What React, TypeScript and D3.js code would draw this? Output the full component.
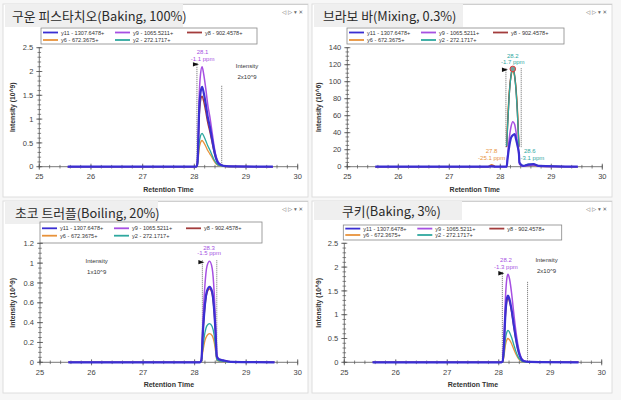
import React from "react";
import * as d3 from "d3";

// ---------- data ----------
const seriesKeys = ["y11", "y9", "y8", "y6", "y2"];
const legendNames = ["y11 - 1307.6478+", "y9 - 1065.5211+", "y8 - 902.4578+", "y6 - 672.3675+", "y2 - 272.1717+"];
const xTicks = [25, 26, 27, 28, 29, 30];
const yTicksA = [0, 0.5, 1, 1.5, 2, 2.5];
const yTicksB = [0, 20, 40, 60, 80, 100, 120, 140];
const yTicksC = [0, 0.2, 0.4, 0.6, 0.8, 1, 1.2];

// 구운 피스타치오
const p1Time = [25.55, 28.03, 28.05, 28.07, 28.09, 28.12, 28.15, 28.18, 28.22, 28.26, 28.3, 28.34, 28.38, 28.42, 28.46, 28.52, 28.6, 28.75, 29.52];
const p1Y11 = [0, 0, 0.02, 0.28, 1.08, 1.56, 1.68, 1.56, 1.32, 1.04, 0.84, 0.6, 0.36, 0.18, 0.08, 0.035, 0.012, 0.005, 0];
const p1Y9 = [0, 0, 0.02, 0.35, 1.35, 1.95, 2.1, 1.95, 1.65, 1.3, 1.05, 0.75, 0.45, 0.22, 0.1, 0.04, 0.015, 0.005, 0];
const p1Y8 = [0, 0, 0.015, 0.25, 0.95, 1.38, 1.48, 1.38, 1.16, 0.92, 0.74, 0.53, 0.32, 0.16, 0.07, 0.03, 0.01, 0.004, 0];
const p1Y6 = [0, 0, 0.008, 0.09, 0.35, 0.51, 0.55, 0.51, 0.43, 0.34, 0.27, 0.2, 0.12, 0.06, 0.027, 0.012, 0.004, 0.001, 0];
const p1Y2 = [0, 0, 0.01, 0.12, 0.45, 0.65, 0.7, 0.65, 0.55, 0.44, 0.35, 0.25, 0.15, 0.08, 0.035, 0.015, 0.005, 0.002, 0];

// 브라보 바
const p2Time = [25.55, 27.75, 27.83, 27.9, 28.11, 28.125, 28.14, 28.17, 28.21, 28.245, 28.28, 28.31, 28.34, 28.365, 28.375, 28.45, 28.55, 28.65, 28.75, 29.52];
const p2Y11 = [0, 0, 0.5, 0, 0, 0, 8, 22, 34, 37, 38.5, 32, 24, 16, 5, 1, 2.5, 3, 1, 0];
const p2Y9 = [0, 0, 0.5, 0, 0, 0, 10, 30, 47, 53, 50, 40, 25, 12, 3, 0.5, 1.5, 2, 0.5, 0];
const p2Y8 = [0, 0, 1.5, 0, null, 23, 45, 80, 108, 116, 108, 89, 58, 23, null, 0.5, 2.5, 2.5, 1, 0];
const p2Y6 = [0, 0, 2.5, 0, null, 24, 50, 84, 106, 112, 106, 92, 64, 25, null, 0.3, 1.5, 1.5, 0.5, 0];
const p2Y2 = [0, 0, 0.5, 0, null, 24, 44, 79, 107, 115, 107, 88, 57, 24, null, 0.5, 3, 3, 1, 0];

// 초코 트러플
const p3Time = [25.55, 28.1, 28.13, 28.16, 28.2, 28.24, 28.29, 28.34, 28.38, 28.41, 28.43, 28.47, 28.55, 28.7, 29.55];
const p3Y11 = [0, 0, 0.02, 0.3, 0.58, 0.72, 0.76, 0.71, 0.52, 0.26, 0.06, 0.03, 0.02, 0.005, 0];
const p3Y9 = [0, 0, 0.02, 0.4, 0.78, 0.97, 1.02, 0.95, 0.7, 0.35, 0.08, 0.03, 0.02, 0.005, 0];
const p3Y8 = [0, 0, 0.02, 0.29, 0.56, 0.7, 0.74, 0.69, 0.5, 0.25, 0.06, 0.03, 0.02, 0.005, 0];
const p3Y6 = [0, 0, 0.008, 0.11, 0.22, 0.27, 0.29, 0.27, 0.2, 0.1, 0.025, 0.012, 0.008, 0.002, 0];
const p3Y2 = [0, 0, 0.01, 0.15, 0.3, 0.37, 0.39, 0.36, 0.27, 0.13, 0.03, 0.015, 0.01, 0.002, 0];

// 쿠키
const p4Time = [25.55, 28.05, 28.075, 28.1, 28.13, 28.16, 28.18, 28.21, 28.25, 28.29, 28.33, 28.37, 28.41, 28.45, 28.5, 28.6, 28.8, 29.55];
const p4Y11 = [0, 0, 0.015, 0.34, 1.02, 1.35, 1.4, 1.32, 1.1, 0.8, 0.52, 0.29, 0.14, 0.055, 0.022, 0.008, 0.004, 0];
const p4Y9 = [0, 0, 0.02, 0.45, 1.35, 1.78, 1.85, 1.75, 1.45, 1.05, 0.68, 0.38, 0.18, 0.07, 0.03, 0.01, 0.005, 0];
const p4Y8 = [0, 0, 0.015, 0.33, 0.98, 1.3, 1.35, 1.27, 1.06, 0.77, 0.5, 0.28, 0.13, 0.05, 0.02, 0.007, 0.003, 0];
const p4Y6 = [0, 0, 0.006, 0.12, 0.36, 0.48, 0.5, 0.47, 0.39, 0.28, 0.18, 0.1, 0.045, 0.018, 0.008, 0.003, 0.001, 0];
const p4Y2 = [0, 0, 0.008, 0.16, 0.49, 0.64, 0.67, 0.63, 0.52, 0.38, 0.24, 0.13, 0.06, 0.025, 0.01, 0.004, 0.002, 0];

// ---------- styles ----------
const colors: Record<string, string> = {
  y11: "#3a2fd2",
  y9: "#a650e2",
  y8: "#a33c3c",
  y6: "#e8923a",
  y2: "#2ea89f",
};
const widths: Record<string, number> = { y11: 2.2, y9: 1.5, y8: 1.4, y6: 1.3, y2: 1.3 };
const drawOrder = ["y6", "y8", "y2", "y9", "y11"];
const sans = "'Liberation Sans', Arial, sans-serif";
const kr = "'Noto Sans CJK KR', sans-serif";

type Note = { t: number; v: number; text: string; color: string };

const panels = [
  {
    frame: [3, 4, 308, 197], tab: [5, 4, 183, 27], title: "구운 피스타치오(Baking, 100%)", titleX: 12, titleY: 21,
    legend: [41, 28, 216, 16], rows: [32.5, 40],
    axis: [39.3, 297.7, 47.7, 166.7], yMax: 2.5, yTicks: yTicksA, yMinor: 0.1, yUnit: "Intensity (10^9)", yLabelX: 13,
    time: p1Time, data: { y11: p1Y11, y9: p1Y9, y8: p1Y8, y6: p1Y6, y2: p1Y2 },
    marks: [[28.05, 2.18, 0], [28.53, 1.7, 0]], flag: [28.05, 2.15], circle: null as null | number[],
    notes: [
      { t: 28.16, v: 2.41, text: "28.1", color: "#a650e2" },
      { t: 28.16, v: 2.26, text: "-1.1 ppm", color: "#a650e2" },
      { t: 29.02, v: 2.11, text: "Intensity", color: "#333" },
      { t: 29.02, v: 1.88, text: "2x10^9", color: "#333" },
    ] as Note[],
  },
  {
    frame: [312, 4, 612, 197], tab: [314, 4, 463, 27], title: "브라보 바(Mixing, 0.3%)", titleX: 323, titleY: 21,
    legend: [347, 28, 217, 16], rows: [32.5, 40],
    axis: [347.3, 602.3, 47.7, 166.7], yMax: 140, yTicks: yTicksB, yMinor: 5, yUnit: "Intensity (10^6)", yLabelX: 318.3,
    time: p2Time, data: { y11: p2Y11, y9: p2Y9, y8: p2Y8, y6: p2Y6, y2: p2Y2 },
    marks: [[28.11, 116, 23], [28.41, 116, 23]], flag: [28.11, 114], circle: [28.245, 115],
    notes: [
      { t: 28.245, v: 130, text: "28.2", color: "#2ea89f" },
      { t: 28.245, v: 123, text: "-1.7 ppm", color: "#2ea89f" },
      { t: 27.83, v: 18.5, text: "27.8", color: "#e8923a" },
      { t: 27.83, v: 10, text: "-25.1 ppm", color: "#e8923a" },
      { t: 28.58, v: 18.5, text: "28.6", color: "#2ea89f" },
      { t: 28.63, v: 10, text: "-3.1 ppm", color: "#2ea89f" },
    ] as Note[],
  },
  {
    frame: [3, 201, 308, 393], tab: [5, 201, 158, 224], title: "초코 트러플(Boiling, 20%)", titleX: 15, titleY: 218,
    legend: [40, 222, 222, 21], rows: [228.3, 235.7],
    axis: [40, 297.7, 243.3, 362.3], yMax: 1.2, yTicks: yTicksC, yMinor: 0.05, yUnit: "Intensity (10^9)", yLabelX: 13,
    time: p3Time, data: { y11: p3Y11, y9: p3Y9, y8: p3Y8, y6: p3Y6, y2: p3Y2 },
    marks: [[28.15, 1.03, 0], [28.43, 1.03, 0]], flag: [28.15, 1.01], circle: null as null | number[],
    notes: [
      { t: 28.28, v: 1.155, text: "28.3", color: "#a650e2" },
      { t: 28.28, v: 1.1, text: "-1.5 ppm", color: "#a650e2" },
      { t: 26.1, v: 1.024, text: "Intensity", color: "#333" },
      { t: 26.1, v: 0.913, text: "1x10^9", color: "#333" },
    ] as Note[],
  },
  {
    frame: [312, 201, 612, 393], tab: [314, 201, 462, 220], title: "쿠키(Baking, 3%)", titleX: 342, titleY: 216,
    legend: [343.3, 225, 218.4, 15], rows: [228.6, 235],
    axis: [344.3, 601.7, 243.3, 362.3], yMax: 2.5, yTicks: yTicksA, yMinor: 0.1, yUnit: "Intensity (10^9)", yLabelX: 318.3,
    time: p4Time, data: { y11: p4Y11, y9: p4Y9, y8: p4Y8, y6: p4Y6, y2: p4Y2 },
    marks: [[28.07, 1.9, 0], [28.56, 1.69, 0]], flag: [28.07, 1.87], circle: null as null | number[],
    notes: [
      { t: 28.14, v: 2.15, text: "28.2", color: "#a650e2" },
      { t: 28.14, v: 2.0, text: "-1.3 ppm", color: "#a650e2" },
      { t: 28.93, v: 2.15, text: "Intensity", color: "#333" },
      { t: 28.93, v: 1.92, text: "2x10^9", color: "#333" },
    ] as Note[],
  },
];

type PanelCfg = (typeof panels)[number];

function Panel({ p }: { p: PanelCfg }) {
  const [ax0, ax1, ayTop, ayBot] = p.axis;
  const x = d3.scaleLinear().domain([25, 30]).range([ax0, ax1]);
  const y = d3.scaleLinear().domain([0, p.yMax]).range([ayBot, ayTop]);
  const line = d3
    .line<number | null>()
    .defined((d) => d !== null)
    .x((_, i) => x(p.time[i]))
    .y((d) => y(d as number))
    .curve(d3.curveMonotoneX);

  const [fx0, fy0, fx1, fy1] = p.frame;
  const [tx0, ty0, tx1, ty1] = p.tab;
  const [lx, ly, lw, lh] = p.legend;
  const xMinor = d3.range(25, 30.0001, 0.2);
  const yMinor = d3.range(0, p.yMax + 1e-6, p.yMinor);
  const colOff = [0, 72, 144];

  return (
    <g>
      {/* window frame */}
      <rect x={fx0} y={fy0} width={fx1 - fx0} height={fy1 - fy0} fill="#fff" stroke="#dedede" />
      <line x1={tx1} x2={fx1} y1={fy0 + 0.5} y2={fy0 + 0.5} stroke="#cfcfcf" />
      <rect x={tx0} y={ty0} width={tx1 - tx0} height={ty1 - ty0} fill="#efefef" />
      <text x={p.titleX} y={p.titleY} fontFamily={kr} fontSize={12.8} fill="#2a2a2a">
        {p.title}
      </text>
      <text x={fx1 - 5} y={fy0 + 10} textAnchor="end" fontFamily="'DejaVu Sans'" fontSize={5.5} fill="#666">
        ◁ ▷ ▾ ✕
      </text>

      {/* legend */}
      <rect x={lx} y={ly} width={lw} height={lh} fill="#fff" stroke="#888" strokeWidth={0.8} />
      {seriesKeys.map((k, i) => {
        const cx = lx + 2 + colOff[i % 3];
        const cy = p.rows[Math.floor(i / 3)];
        return (
          <g key={k}>
            <line x1={cx} x2={cx + 15} y1={cy} y2={cy} stroke={colors[k]} strokeWidth={1.8} />
            <text x={cx + 18} y={cy + 2} fontFamily={sans} fontSize={5.6} fill="#333">
              {legendNames[i]}
            </text>
          </g>
        );
      })}

      {/* axes */}
      <line x1={ax0} x2={ax1} y1={ayBot} y2={ayBot} stroke="#555" strokeWidth={0.8} />
      <line x1={ax0} x2={ax0} y1={ayBot} y2={ayTop} stroke="#555" strokeWidth={0.8} />
      {xMinor.map((t, i) => (
        <line key={"xm" + i} x1={x(t)} x2={x(t)} y1={ayBot - 1.8} y2={ayBot + 1.8} stroke="#555" strokeWidth={0.7} />
      ))}
      {yMinor.map((v, i) => (
        <line key={"ym" + i} x1={ax0 - 1.8} x2={ax0 + 1.8} y1={y(v)} y2={y(v)} stroke="#555" strokeWidth={0.7} />
      ))}
      {xTicks.map((t) => (
        <g key={"xt" + t}>
          <line x1={x(t)} x2={x(t)} y1={ayBot - 3} y2={ayBot + 3} stroke="#555" strokeWidth={0.8} />
          <text x={x(t)} y={ayBot + 12.5} textAnchor="middle" fontFamily={sans} fontSize={7.5} fill="#444">
            {t}
          </text>
        </g>
      ))}
      {p.yTicks.map((v) => (
        <g key={"yt" + v}>
          <line x1={ax0 - 3} x2={ax0 + 3} y1={y(v)} y2={y(v)} stroke="#555" strokeWidth={0.8} />
          <text x={ax0 - 6} y={y(v) + 2.6} textAnchor="end" fontFamily={sans} fontSize={7.5} fill="#444">
            {d3.format("~g")(v)}
          </text>
        </g>
      ))}
      <text
        transform={`translate(${p.yLabelX},${(ayTop + ayBot) / 2}) rotate(-90)`}
        textAnchor="middle"
        fontFamily={sans}
        fontWeight="bold"
        fontSize={6.8}
        fill="#333"
        dy={2.4}
      >
        {p.yUnit}
      </text>
      <text x={(ax0 + ax1) / 2} y={ayBot + 25} textAnchor="middle" fontFamily={sans} fontWeight="bold" fontSize={7} fill="#333">
        Retention Time
      </text>

      {/* integration bounds */}
      {p.marks.map((m, i) => (
        <line key={"mk" + i} x1={x(m[0])} x2={x(m[0])} y1={y(m[1])} y2={y(m[2])} stroke="#666" strokeWidth={0.8} strokeDasharray="1.2 0.8" />
      ))}

      {/* traces */}
      {drawOrder.map((k) => (
        <path
          key={k}
          d={line((p.data as Record<string, (number | null)[]>)[k]) || ""}
          fill="none"
          stroke={colors[k]}
          strokeWidth={widths[k]}
          strokeLinejoin="round"
        />
      ))}

      {p.circle && (
        <circle cx={x(p.circle[0])} cy={y(p.circle[1])} r={2.8} fill="#6f9f9a" stroke="#e03a3a" strokeWidth={1} />
      )}
      <path
        d={`M${x(p.flag[0]) - 4},${y(p.flag[1]) - 2.2} L${x(p.flag[0]) + 2},${y(p.flag[1])} L${x(p.flag[0]) - 4},${y(p.flag[1]) + 2.2} Z`}
        fill="#111"
      />

      {p.notes.map((n, i) => (
        <text key={"nt" + i} x={x(n.t)} y={y(n.v) + 2.2} textAnchor="middle" fontFamily={sans} fontSize={6} fill={n.color}>
          {n.text}
        </text>
      ))}
    </g>
  );
}

export default function App() {
  return (
    <svg width={621} height={400} style={{ position: "absolute", left: 0, top: 0, background: "#fff" }}>
      <rect width={621} height={400} fill="#f7f7f7" />
      {panels.map((p, i) => (
        <Panel key={i} p={p} />
      ))}
    </svg>
  );
}
